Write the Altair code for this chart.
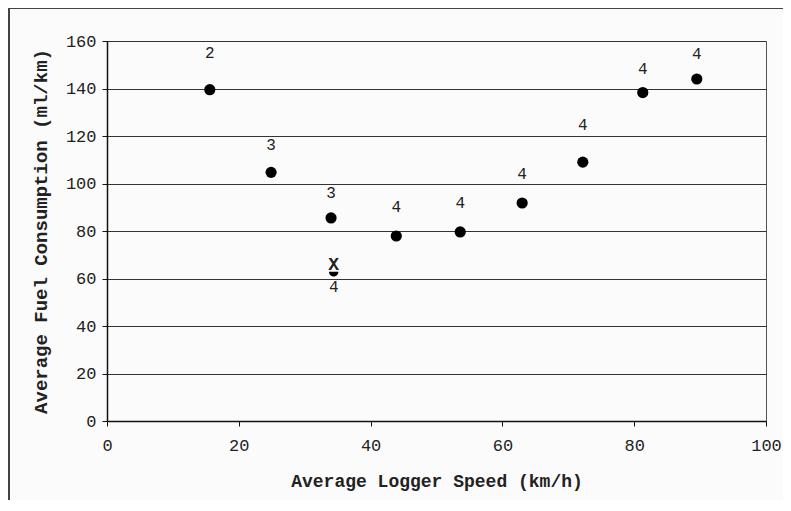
import altair as alt
import pandas as pd

# Data
speed = [15.6, 24.9, 34.0, 43.9, 53.6, 63.0, 72.2, 81.3, 89.5]
fuel = [139.5, 104.7, 85.5, 77.9, 79.6, 91.8, 109.0, 138.3, 144.0]
n_label = ["2", "3", "3", "4", "4", "4", "4", "4", "4"]
label_y = [155.0, 116.2, 96.0, 90.1, 91.8, 104.0, 124.6, 148.2, 154.5]

x_speed = [34.4]
x_fuel = [65.6]
x_under = [62.4]
x_label = ["4"]
x_label_y = [56.4]

df = pd.DataFrame({"speed": speed, "fuel": fuel, "n": n_label, "ly": label_y})
dx = pd.DataFrame({"speed": x_speed, "fuel": x_fuel, "under": x_under,
                   "n": x_label, "ly": x_label_y})

FONT = "Liberation Mono, Courier New, DejaVu Sans Mono, monospace"
W, H = 659, 380

xs = alt.Scale(domain=[0, 100], nice=False)
ys = alt.Scale(domain=[0, 160], nice=False)

xax = alt.Axis(values=[0, 20, 40, 60, 80, 100], grid=False, title="Average Logger Speed (km/h)",
               labelFont=FONT, labelFontSize=17, labelColor="#222", labelPadding=11,
               labelFlush=False,
               titleFont=FONT, titleFontSize=18, titleFontWeight="bold", titleColor="#222",
               titlePadding=19, domainColor="#111", domainWidth=1.5, tickColor="#111", tickSize=5)
yax = alt.Axis(values=[0, 20, 40, 60, 80, 100, 120, 140, 160], grid=True, gridColor="#333",
               gridWidth=1, title="Average Fuel Consumption (ml/km)", labelFlush=False,
               labelFont=FONT, labelFontSize=17, labelColor="#222", labelPadding=6,
               titleFont=FONT, titleFontSize=19, titleFontWeight="bold", titleColor="#222",
               titlePadding=15, domainColor="#111", domainWidth=1.5, tickColor="#111", tickSize=5)

points = alt.Chart(df).mark_circle(size=125, color="black", opacity=1).encode(
    x=alt.X("speed:Q", scale=xs, axis=xax),
    y=alt.Y("fuel:Q", scale=ys, axis=yax),
)
labels = alt.Chart(df).mark_text(font=FONT, fontSize=16, color="#222").encode(
    x=alt.X("speed:Q", scale=xs), y=alt.Y("ly:Q", scale=ys), text="n:N"
)
xmark = alt.Chart(dx).mark_text(font=FONT, fontSize=18, fontWeight="bold", color="#222").encode(
    x=alt.X("speed:Q", scale=xs), y=alt.Y("fuel:Q", scale=ys), text=alt.value("X")
)
under = alt.Chart(dx).mark_point(shape="M -1 -0.2 A 1 1 0 0 0 1 -0.2 Z", size=90,
                                 filled=True, color="black", opacity=1).encode(
    x=alt.X("speed:Q", scale=xs), y=alt.Y("under:Q", scale=ys)
)
xlab = alt.Chart(dx).mark_text(font=FONT, fontSize=16, color="#222").encode(
    x=alt.X("speed:Q", scale=xs), y=alt.Y("ly:Q", scale=ys), text="n:N"
)

frame_top = alt.Chart(df).mark_rule(color="#444", strokeWidth=1).encode(
    x=alt.value(-98), x2=alt.value(700), y=alt.value(-33)
)
frame_left = alt.Chart(df).mark_rule(color="#444", strokeWidth=1).encode(
    x=alt.value(-98), y=alt.value(-33), y2=alt.value(480)
)

chart = alt.layer(frame_top, frame_left, points, labels, xmark, under, xlab).properties(
    width=W, height=H,
    autosize=alt.AutoSizeParams(type="none"),
    padding={"left": 99, "top": 33, "right": 17, "bottom": 79},
    background="#fbfbfb",
).configure_view(stroke="#555", strokeWidth=1)

chart.save("out.html", embed_options={"renderer": "svg", "actions": False})
